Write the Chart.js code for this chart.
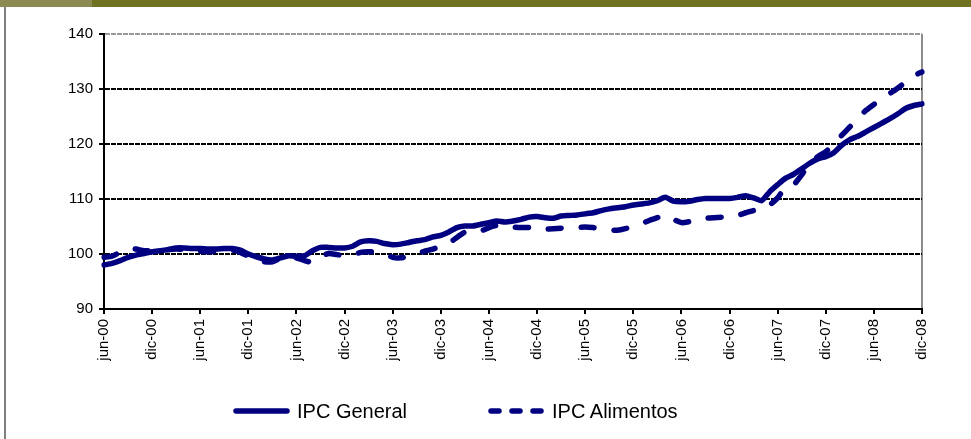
<!DOCTYPE html>
<html>
<head>
<meta charset="utf-8">
<script src="https://cdn.jsdelivr.net/npm/chart.js@4.4.0/dist/chart.umd.min.js"></script>
<style>
  body { margin: 0; background: #fff; font-family: "Liberation Sans", Arial, sans-serif; }
  #wrap { position: relative; width: 971px; height: 439px; overflow: hidden; }
  #bandLeft { position: absolute; left: 0; top: 0; width: 92px; height: 7px; background: #8b8a52; }
  #bandRight { position: absolute; left: 92px; top: 0; width: 879px; height: 7px; background: #6f7220; }
  #sideLine { position: absolute; left: 4px; top: 7px; width: 2px; height: 432px; background: #7f7f7f; }
  #chart { position: absolute; left: 0; top: 0; }
  #legend { position: absolute; top: 398px; left: 0; width: 971px; height: 26px; }
  .item { position: absolute; top: 0; height: 26px; display: flex; align-items: center; font-size: 20px; color: #000; }
  .item svg { margin-right: 7px; }
</style>
</head>
<body>
<div id="wrap">
  <div id="bandLeft"></div>
  <div id="bandRight"></div>
  <div id="sideLine"></div>
  <canvas id="chart" width="971" height="439"></canvas>
  <div id="legend">
    <div class="item" style="left:233px">
      <svg width="57" height="8"><line x1="3" y1="4" x2="54" y2="4" stroke="#000080" stroke-width="5.5" stroke-linecap="round"/></svg>
      <span>IPC General</span>
    </div>
    <div class="item" style="left:488px">
      <svg width="57" height="8"><line x1="3" y1="4" x2="55" y2="4" stroke="#000080" stroke-width="5.5" stroke-linecap="round" stroke-dasharray="8 13"/></svg>
      <span>IPC Alimentos</span>
    </div>
  </div>
</div>
<script>
// monthly categories jun-00 .. dic-08
const monthNames = ['ene', 'feb', 'mar', 'abr', 'may', 'jun', 'jul', 'ago', 'sep', 'oct', 'nov', 'dic'];
const months = [];
for (let y = 0; y <= 8; y++) {
    for (let m = 0; m < 12; m++) {
        if (y === 0 && m < 5) continue;
        months.push(monthNames[m] + '-0' + y);
    }
}

const ipcGeneral = [
    98.0, 98.3, 98.8, 99.4, 99.8, 100.1, 100.4, 100.6, 100.8, 101.1, 101.1, 101.0,
    101.0, 100.9, 100.9, 101.0, 101.0, 100.7, 100.0, 99.5, 99.1, 98.9, 99.3, 99.7,
    99.6, 99.7, 100.6, 101.2, 101.2, 101.1, 101.1, 101.4, 102.2, 102.4, 102.3, 101.9,
    101.7, 101.8, 102.1, 102.4, 102.6, 103.1, 103.4, 104.0, 104.8, 105.1, 105.1, 105.4,
    105.7, 106.0, 105.8, 106.0, 106.3, 106.7, 106.8, 106.6, 106.5, 106.9, 107.0, 107.1,
    107.3, 107.5, 107.9, 108.2, 108.4, 108.6, 108.9, 109.1, 109.3, 109.7, 110.3, 109.6,
    109.5, 109.6, 109.9, 110.1, 110.1, 110.1, 110.1, 110.3, 110.6, 110.2, 109.7, 111.3,
    112.6, 113.8, 114.5, 115.5, 116.5, 117.3, 117.7, 118.4, 119.8, 120.8, 121.4, 122.2,
    123.0, 123.8, 124.6, 125.5, 126.5, 127.0, 127.3
];

const ipcAlimentos = [
    99.4, 99.6, 100.3, 101.0, 100.9, 100.6, 100.6, 100.7, 100.8, 100.9, 100.8, 100.6,
    100.5, 100.4, 100.5, 100.6, 100.7, 100.3, 99.6, 99.1, 98.6, 98.6, 99.2, 99.7,
    99.3, 98.8, 98.5, 99.5, 100.1, 99.9, 99.7, 99.8, 100.3, 100.4, 100.4, 100.1,
    99.4, 99.3, 99.6, 100.1, 100.5, 100.9, 101.4, 102.0, 103.0, 104.0, 104.1, 104.2,
    104.8, 105.2, 105.2, 104.9, 104.8, 104.8, 104.7, 104.5, 104.6, 104.7, 104.8, 104.8,
    104.9, 104.8, 104.6, 104.4, 104.3, 104.6, 105.1, 105.5, 106.1, 106.6, 107.1, 106.3,
    105.7, 105.9, 106.3, 106.5, 106.6, 106.7, 106.8, 107.0, 107.5, 107.9, 108.3, 108.9,
    110.2, 112.2, 112.6, 114.4, 116.5, 117.7, 118.6, 120.0, 121.6, 123.1, 124.7, 126.1,
    127.2, 128.2, 129.2, 130.2, 131.3, 132.4, 133.1
];

const yTicks = [90, 100, 110, 120, 130, 140];

const ctx = document.getElementById('chart').getContext('2d');
const chart = new Chart(ctx, {
    type: 'line',
    data: {
        labels: months,
        datasets: [{
            label: 'IPC General',
            data: ipcGeneral,
            borderColor: '#000080',
            borderWidth: 5.5,
            borderCapStyle: 'round',
            pointRadius: 0,
            tension: 0.2,
            fill: false
        }, {
            label: 'IPC Alimentos',
            data: ipcAlimentos,
            borderColor: '#000080',
            borderWidth: 5.5,
            borderDash: [13, 20],
            borderCapStyle: 'round',
            pointRadius: 0,
            tension: 0.2,
            fill: false
        }]
    },
    options: {
        responsive: false,
        devicePixelRatio: 1,
        animation: false,
        layout: {
            padding: { left: 0, top: 34, right: 49, bottom: 50 }
        },
        plugins: {
            legend: { display: false },
            tooltip: { enabled: false }
        },
        scales: {
            x: {
                afterFit: scale => { scale.height = 80; },
                border: { color: '#000', width: 2 },
                grid: {
                    // only the right edge (dic-08) gets the grey frame line
                    color: c => (c.tick && c.tick.label === months[months.length - 1] ? '#8c8c8c' : 'transparent'),
                    lineWidth: 2,
                    tickColor: '#000',
                    tickLength: 5,
                    tickWidth: 2
                },
                ticks: {
                    autoSkip: false,
                    maxRotation: 90,
                    minRotation: 90,
                    padding: 5,
                    color: '#000',
                    font: { family: '"Liberation Sans", Arial, sans-serif', size: 15 },
                    callback: function(value, index) {
                        return index % 6 === 0 ? months[index] : null;
                    }
                }
            },
            y: {
                min: yTicks[0],
                max: yTicks[yTicks.length - 1],
                afterFit: scale => { scale.width = 104; },
                afterBuildTicks: scale => { scale.ticks = yTicks.map(v => ({ value: v })); },
                border: { color: '#000', width: 2, dash: [5, 1] },
                grid: {
                    color: c => (c.tick.value === 140 ? '#9a9a9a' : c.tick.value === 90 ? 'transparent' : '#000'),
                    lineWidth: 2,
                    tickColor: '#000',
                    tickLength: 5,
                    tickWidth: 2
                },
                ticks: {
                    padding: 6,
                    color: '#000',
                    font: { family: '"Liberation Sans", Arial, sans-serif', size: 15 }
                }
            }
        }
    }
});
</script>
</body>
</html>
